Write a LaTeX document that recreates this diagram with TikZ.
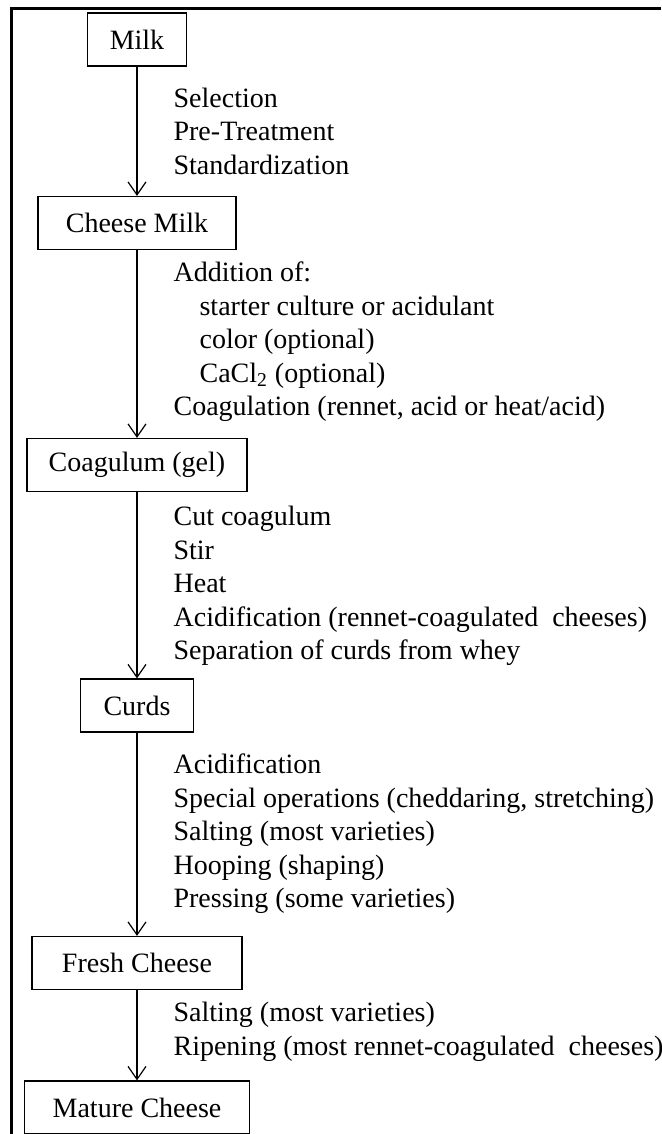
\documentclass[tikz,border=0pt]{standalone}
\usepackage{fontspec}
\setmainfont{Liberation Serif}
\usetikzlibrary{arrows.meta}

\begin{document}
\begin{tikzpicture}[x=0.5pt,y=-0.5pt,line width=0.6pt]
    \tikzstyle{stage}=[draw,rectangle,minimum height=26.5pt,inner sep=0pt,font={\fontsize{14}{16.75}\selectfont}]
    \tikzstyle{steps}=[align=left,anchor=west,inner sep=0pt,font={\fontsize{14}{16.75}\selectfont}]
    \tikzstyle{flow}=[-{Straight Barb[length=6.5pt,width=9pt]}]

    \useasboundingbox (0,0) rectangle (661,1134);

    % Frame
    \draw[line width=1.6pt] (11.5,1134) -- (11.5,8.5) -- (661,8.5);

    % Stages
    \node[stage,minimum width=49.5pt] (milk) at (137,39.5) {Milk};
    \node[stage,minimum width=99pt] (cmilk) at (137,223) {Cheese Milk};
    \node[stage,minimum width=110pt] (gel) at (137,465) {Coagulum (gel)};
    \node[stage,minimum width=56.5pt] (curds) at (137,705.5) {Curds};
    \node[stage,minimum width=105pt] (fresh) at (137,963) {Fresh Cheese};
    \node[stage,minimum width=112.5pt] (mature) at (137,1107.5) {Mature Cheese};

    % Connect stages
    \draw[flow] (milk) -- (cmilk);
    \draw[flow] (cmilk) -- (gel);
    \draw[flow] (gel) -- (curds);
    \draw[flow] (curds) -- (fresh);
    \draw[flow] (fresh) -- (mature);

    % Operations between stages
    \node[steps] (ops1) at (173,131) {Selection\\Pre-Treatment\\Standardization};
    \node[steps] (ops2) at (173,342) {Addition of:\\
        \hspace*{13pt}starter culture or acidulant\\
        \hspace*{13pt}color (optional)\\
        \hspace*{13pt}CaCl\textsubscript{2} (optional)\\
        Coagulation (rennet, acid or heat/acid)};
    \node[steps] (ops3) at (173,586) {Cut coagulum\\Stir\\Heat\\
        Acidification (rennet-coagulated\ \ cheeses)\\
        Separation of curds from whey};
    \node[steps] (ops4) at (173,834) {Acidification\\
        Special operations (cheddaring, stretching)\\
        Salting (most varieties)\\Hooping (shaping)\\
        Pressing (some varieties)};
    \node[steps] (ops5) at (173,1032) {Salting (most varieties)\\
        Ripening (most rennet-coagulated\ \ cheeses)};

\end{tikzpicture}
\end{document}
